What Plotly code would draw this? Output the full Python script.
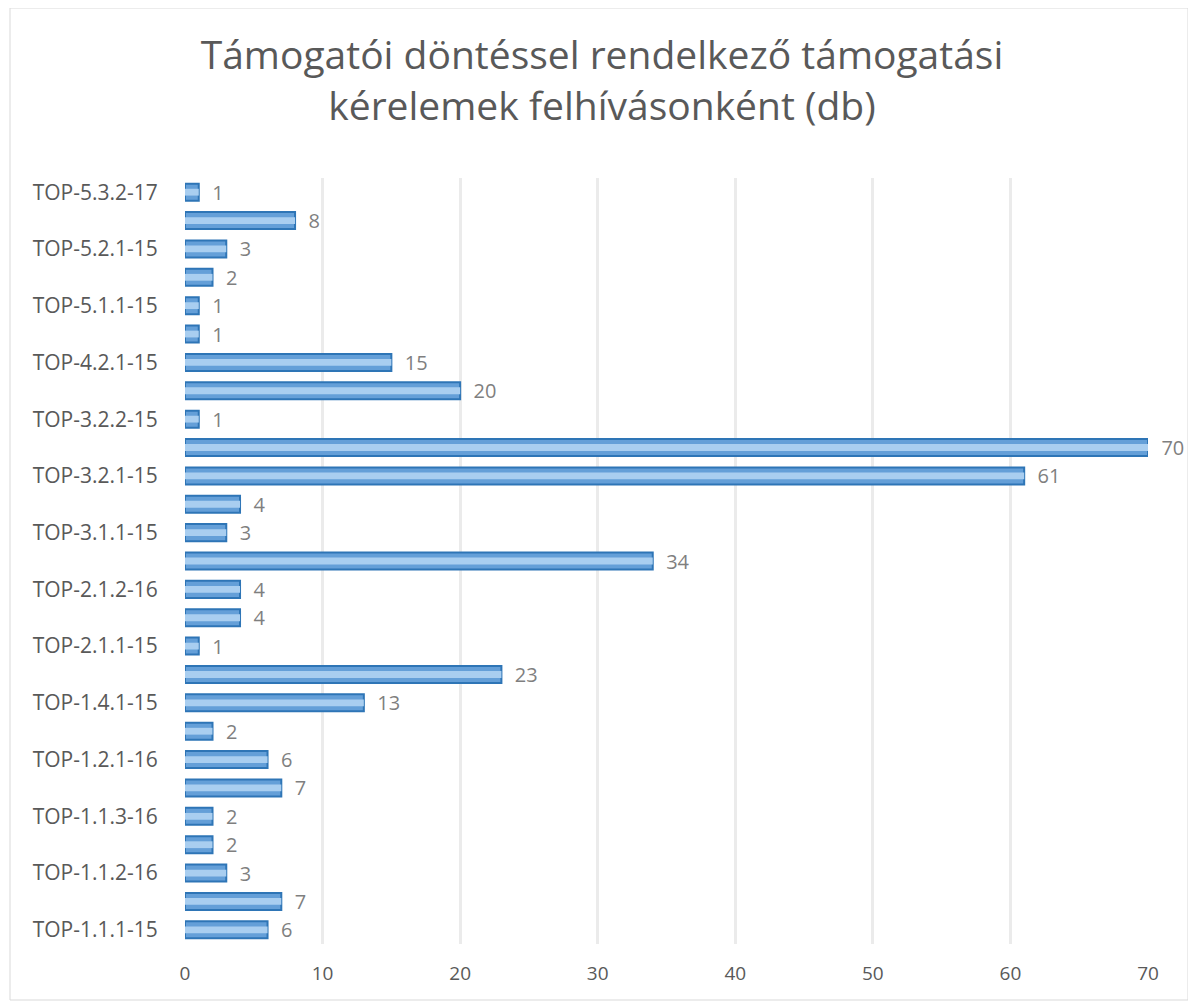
import plotly.graph_objects as go

# categories bottom -> top (every other one is labelled on the axis)
calls = [
    "TOP-1.1.1-15", "TOP-1.1.1-16", "TOP-1.1.2-16", "TOP-1.1.3-15", "TOP-1.1.3-16",
    "TOP-1.2.1-15", "TOP-1.2.1-16", "TOP-1.3.1-16", "TOP-1.4.1-15", "TOP-1.4.1-16",
    "TOP-2.1.1-15", "TOP-2.1.1-16", "TOP-2.1.2-16", "TOP-2.1.3-16", "TOP-3.1.1-15",
    "TOP-3.1.1-16", "TOP-3.2.1-15", "TOP-3.2.1-16", "TOP-3.2.2-15", "TOP-4.1.1-15",
    "TOP-4.2.1-15", "TOP-4.3.1-15", "TOP-5.1.1-15", "TOP-5.1.2-15", "TOP-5.2.1-15",
    "TOP-5.3.1-16", "TOP-5.3.2-17",
]
counts = [6, 7, 3, 2, 2, 7, 6, 2, 13, 23, 1, 4, 4, 34, 3, 4, 61, 70, 1, 20, 15, 1, 1, 2, 3, 8, 1]
shown_ticks = calls[::2]
x_ticks = [0, 10, 20, 30, 40, 50, 60, 70]

title = "Támogatói döntéssel rendelkező támogatási<br>kérelemek felhívásonként (db)"

FONT = "Open Sans"
GRAY = "#595959"

# the page body adds an 8px offset, so the figure is 8px smaller than the window
W, H = 1188, 999
L, R, T, B = 177, 48, 170, 63

fig = go.Figure()
# outer bar body
fig.add_trace(go.Bar(
    x=counts, y=calls, orientation="h", width=0.6,
    marker=dict(color="#649FD8", line=dict(color="#2E75B6", width=2)),
    text=counts, texttemplate="\u00a0\u00a0%{x}", textposition="outside",
    cliponaxis=False, constraintext="none",
    textfont=dict(family=FONT, size=20, color="#7F7F7F"),
    hoverinfo="x+y",
))
# lighter highlight stripe to mimic the 3D look
fig.add_trace(go.Bar(
    x=counts, y=calls, orientation="h", width=0.24,
    marker=dict(color="#A9CEF0", line=dict(width=0)),
    hoverinfo="skip",
))

fig.update_layout(
    width=W, height=H,
    barmode="overlay", showlegend=False,
    paper_bgcolor="white", plot_bgcolor="white",
    margin=dict(l=L, r=R, t=T, b=B),
    title=dict(text=title, x=0.5, xref="container", xanchor="center",
               y=1 - 61 / H, yref="container", yanchor="middle",
               font=dict(family=FONT, size=39, color=GRAY)),
    font=dict(family=FONT, color=GRAY),
)
fig.update_xaxes(
    range=[0, 70], tickvals=x_ticks, showgrid=True, gridcolor="#EBEBEB", gridwidth=3,
    zeroline=False, showline=False, ticks="outside", ticklen=12, tickcolor="rgba(0,0,0,0)",
    tickfont=dict(family=FONT, size=19, color=GRAY),
)
fig.update_yaxes(
    categoryorder="array", categoryarray=calls, range=[-0.5, len(calls) - 0.5],
    tickvals=shown_ticks, ticktext=shown_ticks, showgrid=False, zeroline=False,
    showline=False, ticks="outside", ticklen=22, tickcolor="rgba(0,0,0,0)",
    tickfont=dict(family=FONT, size=21, color=GRAY),
)

# thin chart-area border
pw, ph = W - L - R, H - T - B
fig.add_shape(type="rect", xref="paper", yref="paper",
              x0=(2 - L) / pw, x1=(1180 - L) / pw,
              y0=(H - B - 992) / ph, y1=(H - B) / ph,
              line=dict(color="#D9D9D9", width=1), layer="below")

fig.write_html("out.html")
